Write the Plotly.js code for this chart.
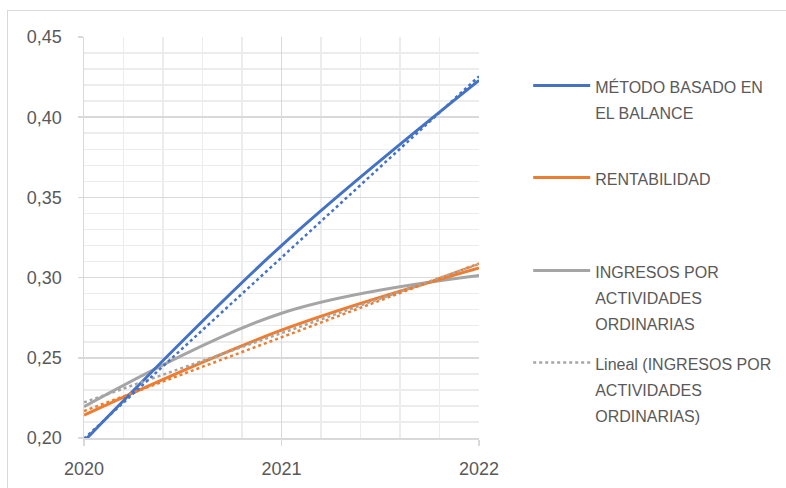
<!DOCTYPE html>
<html>
<head>
<meta charset="utf-8">
<script src="https://cdn.plot.ly/plotly-3.0.1.min.js"></script>
<style>
  html, body { margin: 0; padding: 0; background: #fff; }
  #wrap { position: relative; width: 786px; height: 488px; overflow: hidden; }
  #chart { position: absolute; left: 0; top: 0; width: 786px; height: 488px; }
  .bt { position: absolute; left: 7px; top: 10px; width: 779px; height: 1px; background: #d9d9d9; }
  .bl { position: absolute; left: 7px; top: 10px; width: 1px; height: 478px; background: #d9d9d9; }
</style>
</head>
<body>
<div id="wrap">
  <div id="chart"></div>
  <div class="bt"></div>
  <div class="bl"></div>
</div>
<script>
// ---- data ----
const years = [2020, 2021, 2022];
const metodoBalance = [0.198, 0.320, 0.423];
const rentabilidad = [0.2143, 0.2672, 0.3060];
const ingresos = [0.2195, 0.2778, 0.3013];

const trendYears = [2020, 2022];
const trendMetodo = [0.1995, 0.4255];
const trendRentabilidad = [0.2168, 0.3088];
const trendIngresos = [0.2222, 0.3085];

const yTickVals = [0.20, 0.25, 0.30, 0.35, 0.40, 0.45];
const yTickText = ['0,20', '0,25', '0,30', '0,35', '0,40', '0,45'];
const xTickVals = [2020, 2021, 2022];
const xTickText = ['2020', '2021', '2022'];

const legendLines = {
  metodo: ['MÉTODO BASADO EN', 'EL BALANCE'],
  rentab: ['RENTABILIDAD'],
  ingresos: ['INGRESOS POR', 'ACTIVIDADES', 'ORDINARIAS'],
  lineal: ['Lineal (INGRESOS POR', 'ACTIVIDADES', 'ORDINARIAS)']
};
function nm(lines) {
  return lines.map(function (s) { return '<span style="font-size:16px">' + s + '</span>'; }).join('<br>');
}

const BLUE = '#4472C4', ORANGE = '#ED7D31', GRAY = '#A5A5A5';

const traces = [
  { x: years, y: ingresos, name: nm(legendLines.ingresos), mode: 'lines', legend: 'legend3',
    line: { color: GRAY, width: 3, shape: 'spline', smoothing: 1 } },
  { x: years, y: rentabilidad, name: nm(legendLines.rentab), mode: 'lines', legend: 'legend2',
    line: { color: ORANGE, width: 3, shape: 'spline', smoothing: 1 } },
  { x: years, y: metodoBalance, name: nm(legendLines.metodo), mode: 'lines', legend: 'legend',
    line: { color: BLUE, width: 3, shape: 'spline', smoothing: 1 } },
  { x: trendYears, y: trendIngresos, name: nm(legendLines.lineal), mode: 'lines', legend: 'legend4',
    line: { color: GRAY, width: 2.5, dash: 'dot' } },
  { x: trendYears, y: trendRentabilidad, mode: 'lines', showlegend: false,
    line: { color: ORANGE, width: 2.5, dash: 'dot' } },
  { x: trendYears, y: trendMetodo, mode: 'lines', showlegend: false,
    line: { color: BLUE, width: 2.5, dash: 'dot' } }
];

const legFont = { family: '"Liberation Sans", Arial, sans-serif', size: 20, color: '#595959' };
function leg(x, y) {
  return { x: x, y: y, xref: 'container', yref: 'container', xanchor: 'left', yanchor: 'top',
           font: legFont, bgcolor: 'rgba(0,0,0,0)', borderwidth: 0, valign: 'top', itemwidth: 57 };
}

const layout = {
  width: 786, height: 488,
  margin: { l: 84, r: 307, t: 37, b: 50 },
  paper_bgcolor: '#ffffff', plot_bgcolor: '#ffffff',
  showlegend: true,
  font: { family: '"Liberation Sans", Arial, sans-serif', color: '#595959', size: 18 },
  xaxis: {
    range: [2020, 2022], tickvals: xTickVals, ticktext: xTickText,
    showgrid: true, gridcolor: '#d9d9d9', gridwidth: 1.5,
    showline: true, linecolor: '#d9d9d9', linewidth: 1.5,
    ticks: 'outside', ticklen: 6, tickcolor: '#d9d9d9', tickwidth: 1.5,
    ticklabelstandoff: 8, zeroline: false, mirror: false,
    minor: { dtick: 0.2, showgrid: true, gridcolor: '#ececec', gridwidth: 1.5, ticks: '' },
    tickfont: { size: 18, color: '#595959' }
  },
  yaxis: {
    range: [0.20, 0.45], tickvals: yTickVals, ticktext: yTickText,
    showgrid: true, gridcolor: '#d9d9d9', gridwidth: 1.5,
    showline: true, linecolor: '#d9d9d9', linewidth: 1.5,
    ticks: 'outside', ticklen: 5, tickcolor: '#d9d9d9', tickwidth: 1.5,
    ticklabelstandoff: 12, zeroline: false,
    minor: { dtick: 0.01, tick0: 0.20, showgrid: true, gridcolor: '#ececec', gridwidth: 1.5, ticks: '' },
    tickfont: { size: 18, color: '#595959' }
  },
  legend: leg(0.672, 1 - 66 / 488),
  legend2: leg(0.672, 1 - 158 / 488),
  legend3: leg(0.672, 1 - 251 / 488),
  legend4: leg(0.672, 1 - 343 / 488)
};

Plotly.newPlot('chart', traces, layout, { staticPlot: true, displayModeBar: false });
</script>
</body>
</html>
